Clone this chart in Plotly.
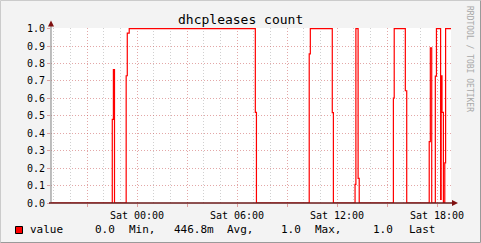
import plotly.graph_objects as go

# ---- data (step changes: time at which value starts) ----
times = [
    "2024-01-05 18:50", "2024-01-05 22:31", "2024-01-05 22:35", "2024-01-05 22:39",
    "2024-01-05 23:21", "2024-01-05 23:25", "2024-01-05 23:32",
    "2024-01-06 07:06", "2024-01-06 07:10",
    "2024-01-06 10:20", "2024-01-06 10:24", "2024-01-06 11:43", "2024-01-06 11:47",
    "2024-01-06 13:05", "2024-01-06 13:08", "2024-01-06 13:16", "2024-01-06 13:20",
    "2024-01-06 15:23", "2024-01-06 15:26", "2024-01-06 16:06", "2024-01-06 16:11",
    "2024-01-06 17:32", "2024-01-06 17:36", "2024-01-06 17:41",
    "2024-01-06 17:54", "2024-01-06 17:58", "2024-01-06 18:13", "2024-01-06 18:15",
    "2024-01-06 18:18", "2024-01-06 18:23", "2024-01-06 18:28", "2024-01-06 18:31",
    "2024-01-06 18:51",
]
values = [
    0.0, 0.48, 0.765, 0.0,
    0.73, 0.975, 1.0,
    0.52, 0.0,
    0.855, 1.0, 0.518, 0.0,
    0.107, 1.0, 0.141, 0.0,
    0.602, 1.0, 0.644, 0.0,
    0.352, 0.89, 0.0,
    0.728, 1.0, 0.02, 0.73,
    0.52, 0.0, 0.23, 1.0,
    1.0,
]
title_text = "dhcpleases count"
legend_items = ["value", "0.0", "Min,", "446.8m", "Avg,", "1.0", "Max,", "1.0", "Last"]
legend_px = [28, 93, 127, 172, 225, 279, 313, 371, 407]

W, H = 481, 243
L, R, T, B = 51, 451, 28, 203
FONT = "DejaVu Sans Mono"


def px(x):
    return (x - L) / (R - L)


def py(y):
    return (B - y) / (B - T)


fig = go.Figure()
fig.add_trace(go.Scatter(
    x=times, y=values, mode="lines", line=dict(color="#FF0000", width=1.2, shape="hv"),
    hoverinfo="skip", showlegend=False,
))

fig.update_layout(
    width=W, height=H,
    margin=dict(l=L, r=W - R, t=T, b=H - B),
    paper_bgcolor="#F3F3F3", plot_bgcolor="#FFFFFF",
    font=dict(family=FONT, size=10, color="#000000"),
    showlegend=False,
)
fig.update_xaxes(
    type="date", range=["2024-01-05 18:50:24", "2024-01-06 18:50:24"],
    tick0="2024-01-06 00:00", dtick=3 * 3600000, ticklabelstep=2,
    tickformat="%a %H:%M", tickfont=dict(family=FONT, size=10),
    showgrid=True, gridcolor="rgba(200,80,80,0.5)", griddash="1px,2px", gridwidth=1,
    ticks="outside", ticklen=3, tickcolor="rgba(200,80,80,0.5)",
    minor=dict(dtick=3600000, tick0="2024-01-06 00:00", showgrid=True,
               gridcolor="rgba(150,150,150,0.45)", griddash="1px,2px", ticks=""),
    showline=False, zeroline=False,
)
fig.update_yaxes(
    range=[0, 1.004], tick0=0, dtick=0.1, tickformat=".1f",
    tickfont=dict(family=FONT, size=10),
    showgrid=True, gridcolor="rgba(200,80,80,0.5)", griddash="1px,2px", gridwidth=1,
    ticks="outside", ticklen=3, tickcolor="rgba(200,80,80,0.5)",
    showline=False, zeroline=False,
)

# axis lines and arrows
fig.add_shape(type="line", xref="paper", yref="paper", x0=px(L), x1=px(L), y0=py(B), y1=py(24),
              line=dict(color="#808080", width=1))
fig.add_shape(type="line", xref="paper", yref="paper", x0=px(L - 2), x1=px(454), y0=py(B), y1=py(B),
              line=dict(color="#6a1818", width=1.3))
fig.add_shape(type="path", xref="paper", yref="paper",
              path=f"M {px(48)} {py(26.5)} L {px(54)} {py(26.5)} L {px(51)} {py(20.5)} Z",
              fillcolor="#7F1010", line=dict(width=0))
fig.add_shape(type="path", xref="paper", yref="paper",
              path=f"M {px(452)} {py(200)} L {px(452)} {py(206)} L {px(458)} {py(203)} Z",
              fillcolor="#7F1010", line=dict(width=0))

# frame shading
fig.add_shape(type="path", xref="paper", yref="paper",
              path=f"M {px(0.5)} {py(242.5)} L {px(0.5)} {py(0.5)} L {px(480.5)} {py(0.5)}",
              line=dict(color="#CBCBCB", width=1))
fig.add_shape(type="path", xref="paper", yref="paper",
              path=f"M {px(480.5)} {py(0.5)} L {px(480.5)} {py(242.5)} L {px(0.5)} {py(242.5)}",
              line=dict(color="#9A9A9A", width=1))

# title
fig.add_annotation(text=title_text, xref="paper", yref="paper", x=px(240), y=py(19),
                   xanchor="center", yanchor="middle", showarrow=False,
                   font=dict(family=FONT, size=13, color="#000000"))
# side text
fig.add_annotation(text="RRDTOOL / TOBI OETIKER", xref="paper", yref="paper", x=px(470), y=py(59),
                   xanchor="center", yanchor="middle", showarrow=False, textangle=90,
                   font=dict(family=FONT, size=8, color="#A8A8A8"))

# legend
fig.add_shape(type="rect", xref="paper", yref="paper", x0=px(15.5), x1=px(22.5), y0=py(233.5), y1=py(226.5),
              fillcolor="#FF0000", line=dict(color="#000000", width=1))
for txt, xp in zip(legend_items, legend_px):
    fig.add_annotation(text=txt, xref="paper", yref="paper", x=px(xp), y=py(229.5),
                       xanchor="left", yanchor="middle", showarrow=False,
                       font=dict(family=FONT, size=11, color="#000000"))

fig.write_html("out.html")
